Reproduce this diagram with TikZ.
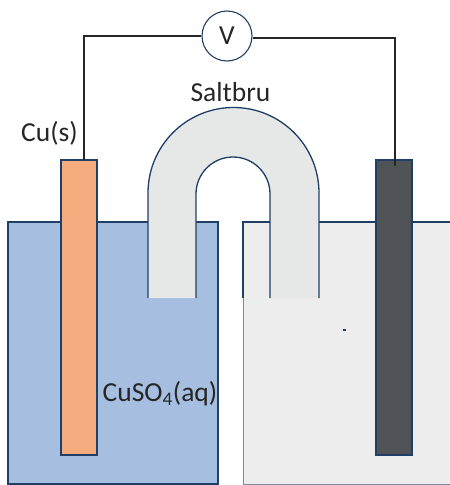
\documentclass[tikz,border=0pt]{standalone}
\usepackage{fontspec}
\setmainfont{Carlito}
\usepackage{tikz}
\definecolor{edgeblue}{HTML}{1F3F66}
\definecolor{solblue}{HTML}{A6BEDF}
\definecolor{copper}{HTML}{F4AC7E}
\definecolor{graphite}{HTML}{4F5355}
\definecolor{solgray}{HTML}{EDEDED}
\definecolor{bridgegray}{HTML}{E6E8E8}
\tikzstyle{beaker}=[rectangle,
                    inner sep=0pt,
                    minimum width=210pt,
                    minimum height=262pt]
\tikzstyle{electrode}=[rectangle,
                       inner sep=0pt,
                       line width=1.3pt,
                       draw=edgeblue,
                       minimum width=36pt,
                       minimum height=295pt]
\tikzstyle{wire}=[line width=1.3pt,black!85]
\tikzstyle{label}=[inner sep=0pt,text=black!85,font=\fontsize{27.5}{30}\selectfont]

\begin{document}
\begin{tikzpicture}[x=1pt,y=-1pt]
    \useasboundingbox (0,0) rectangle (450,485);
    \node[beaker, fill=solblue, draw=edgeblue, line width=1.1pt] (cusol) at (113,353) {};
    \node[beaker, fill=solgray, minimum width=207pt, anchor=north west] (rightsol) at (243,222) {};
    \draw[edgeblue, line width=1.1pt] (rightsol.north east) -- (rightsol.north west) -- ++(0,76);
    \draw[edgeblue!60, line width=0.7pt] (rightsol.north west) ++(0,76) -- (rightsol.south west) -- (rightsol.south east);
    \fill[edgeblue] (343,329) rectangle (345.5,331);
    % bridge
    \fill[bridgegray] (148,298) -- (148,193) arc[start angle=180,end angle=360,radius=85.5] -- (319,298) -- (270,298)
        -- (270,194) arc[start angle=360,end angle=180,radius=37] -- (196,298) -- cycle;
    \draw[edgeblue, line width=1.3pt] (148,298) -- (148,193) arc[start angle=180,end angle=360,radius=85.5] -- (319,298);
    \draw[edgeblue, line width=1.3pt] (270,298) -- (270,194) arc[start angle=360,end angle=180,radius=37] -- (196,298);
    \node[electrode, fill=copper] (cu) at (79,307.5) {};
    \node[electrode, fill=graphite] (graphite) at (394,307.5) {};
    \node[circle, draw=edgeblue, fill=white, line width=1.1pt, inner sep=0pt, minimum size=50pt, text=black!85, font=\fontsize{27.5}{30}\selectfont] (volt) at (227,36) {V};
    \coordinate (cuend) at (84,160);
    \coordinate (cucorner) at (84,36);
    \coordinate (grend) at (395,166);
    \coordinate (grcorner) at (395,38);
    \draw[wire] (volt.west) -- (cucorner) -- (cuend);
    \draw[wire] (volt.east |- grcorner) -- (grcorner) -- (grend);
    \node[label] (salt) at (230.5,92) {Saltbru};
    \node[label] (cus) at (49.5,133) {Cu(s)};
    \node[label] (cuso) at (160,394) {CuSO\textsubscript{4}(aq)};
\end{tikzpicture}
\end{document}
